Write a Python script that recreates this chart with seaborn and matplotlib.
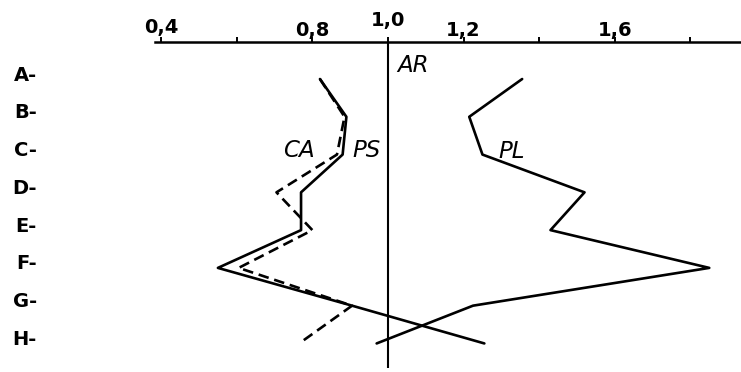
import matplotlib
matplotlib.use("Agg")
import matplotlib.pyplot as plt
import matplotlib.transforms as mtransforms
import pandas as pd
import seaborn as sns

# Profile values per level (A..H) for each series; AR is the reference at 1.0
categories = ["A", "B", "C", "D", "E", "F", "G", "H"]
ca_values = [0.82, 0.885, 0.865, 0.705, 0.80, 0.605, 0.905, 0.765]
ps_values = [0.82, 0.89, 0.88, 0.77, 0.77, 0.55, 0.905, 1.255]
pl_values = [1.355, 1.215, 1.25, 1.52, 1.43, 1.85, 1.225, 0.97]
reference_value = 1.0
series_names = ["CA", "PS", "PL"]
tick_values = [0.4, 0.6, 0.8, 1.0, 1.2, 1.4, 1.6, 1.8]
tick_labels = ["0,4", "", "0,8", "1,0", "1,2", "", "1,6", ""]

rows = []
for name, vals in zip(series_names, [ca_values, ps_values, pl_values]):
    for i, (cat, v) in enumerate(zip(categories, vals)):
        rows.append({"series": name, "category": cat, "pos": i, "value": v})
df = pd.DataFrame(rows)

sns.set_theme(style="white")
plt.rcParams["font.family"] = ["DejaVu Sans"]

W, H = 741, 372
fig = plt.figure(figsize=(W / 100, H / 100), dpi=100)
fig.patch.set_facecolor("white")
ax = fig.add_axes([155 / W, 1 - 368 / H, 1 - 155 / W, (368 - 42) / H])

sns.lineplot(
    data=df, x="value", y="pos", hue="series", style="series",
    palette={"CA": "black", "PS": "black", "PL": "black"},
    dashes={"CA": (4, 2.2), "PS": "", "PL": ""},
    orient="y", sort=False, estimator=None, legend=False,
    linewidth=1.9, ax=ax,
)
ax.axvline(reference_value, color="black", lw=1.5, zorder=1)

ax.set_xlim(0.3836, 1.934)
ax.set_ylim(7.65, -0.98)
ax.set_xlabel("")
ax.set_ylabel("")

for side in ["bottom", "left", "right"]:
    ax.spines[side].set_visible(False)
ax.spines["top"].set_visible(True)
ax.spines["top"].set_color("black")
ax.spines["top"].set_linewidth(1.8)

# top value axis
ax.xaxis.tick_top()
ax.set_xticks(tick_values)
ax.set_xticklabels(tick_labels, fontweight="bold")
ax.tick_params(axis="x", top=True, bottom=False, direction="out",
               length=3.6, width=1.4, pad=-2.5, labelsize=14,
               colors="black")
xt = ax.xaxis.get_major_ticks()
xt[0].set_pad(0)
xt[3].set_pad(5)

# level labels on the left
ax.set_yticks(range(len(categories)))
ax.set_yticklabels([c + "-" for c in categories], fontweight="bold")
ax.tick_params(axis="y", left=True, length=0, pad=85, labelsize=14,
               colors="black")
shift = mtransforms.ScaledTranslation(0, 0.06, fig.dpi_scale_trans)
for lbl in ax.get_yticklabels():
    lbl.set_transform(lbl.get_transform() + shift)

# series names
label_kw = dict(style="italic", fontsize=16.5, va="baseline", ha="left",
                color="black")
ax.text(1.024, -0.185, "AR", **label_kw)
ax.text(0.722, 2.06, "CA", **label_kw)
ax.text(0.905, 2.06, "PS", **label_kw)
ax.text(1.291, 2.09, "PL", **label_kw)

fig.savefig("out.png", dpi=100, facecolor="white")
